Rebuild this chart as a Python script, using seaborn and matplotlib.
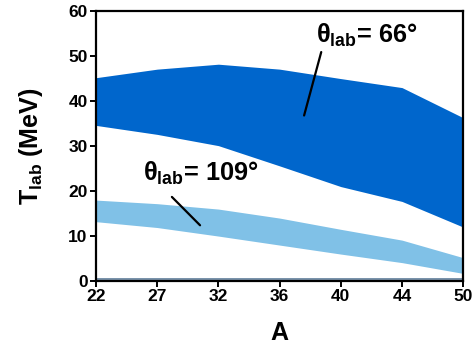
import matplotlib
matplotlib.use("Agg")
import matplotlib.pyplot as plt
import seaborn as sns
import numpy as np

# Data
mass_numbers = ["22", "27", "32", "36", "40", "44", "50"]
theta66_upper = [45.2, 47.1, 48.2, 47.1, 45.0, 43.0, 36.3]
theta66_lower = [34.6, 32.6, 30.1, 25.6, 21.0, 17.7, 12.0]
theta109_upper = [18.0, 17.2, 16.0, 14.0, 11.5, 9.1, 5.2]
theta109_lower = [13.2, 11.9, 10.0, 8.0, 6.0, 4.1, 1.7]
base_upper = [0.7, 0.7, 0.7, 0.7, 0.7, 0.7, 0.7]
base_lower = [0.0, 0.0, 0.0, 0.0, 0.0, 0.0, 0.0]
y_ticks = [0, 10, 20, 30, 40, 50, 60]

sns.set_style("ticks")
plt.rcParams['font.family'] = ['Liberation Sans', 'DejaVu Sans']
plt.rcParams['mathtext.fontset'] = 'custom'
plt.rcParams['mathtext.rm'] = 'Liberation Sans:bold'
plt.rcParams['mathtext.bf'] = 'Liberation Sans:bold'
plt.rcParams['mathtext.it'] = 'Liberation Sans:bold'
plt.rcParams['text.color'] = 'black'
plt.rcParams['axes.labelcolor'] = 'black'
plt.rcParams['xtick.color'] = 'black'
plt.rcParams['ytick.color'] = 'black'

fig = plt.figure(figsize=(4.72, 3.47), dpi=100)
ax = fig.add_axes([0.2034, 0.19, 0.778, 0.778])

x = np.arange(len(mass_numbers))
ax.fill_between(x, theta66_lower, theta66_upper, color="#0066cc", lw=0)
ax.fill_between(x, theta109_lower, theta109_upper, color="#80c1e7", lw=0)
ax.fill_between(x, base_lower, base_upper, color="#7a93ab", lw=0)

ax.set_xlim(0, len(mass_numbers) - 1)
ax.set_ylim(0, 60)
ax.set_xticks(x)
ax.set_xticklabels(mass_numbers)
ax.set_yticks(y_ticks)

for lbl in ax.get_xticklabels() + ax.get_yticklabels():
    lbl.set_fontweight('bold')
    lbl.set_fontsize(12.5)
    lbl.set_color('black')

ax.set_xlabel("A", fontsize=18, fontweight='bold', labelpad=12, color='black')
ax.set_ylabel(r"T$_{\mathbf{lab}}$ (MeV)", fontsize=18, fontweight='bold', labelpad=17, color='black')

for s in ax.spines.values():
    s.set_linewidth(1.6)
    s.set_color("black")
ax.tick_params(direction='out', length=4, width=1.4, pad=2, colors='black')

ax.text(3.60, 54.6, r"θ$_{\mathbf{lab}}$= 66°", fontsize=18.3, fontweight='bold',
        ha='left', va='center', color='black')
ax.plot([3.68, 3.40], [50.9, 36.8], color='black', lw=1.6)

ax.text(0.77, 24.0, r"θ$_{\mathbf{lab}}$= 109°", fontsize=18.3, fontweight='bold',
        ha='left', va='center', color='black')
ax.plot([1.24, 1.70], [18.7, 12.4], color='black', lw=1.6)

fig.savefig("out.png", dpi=100)
